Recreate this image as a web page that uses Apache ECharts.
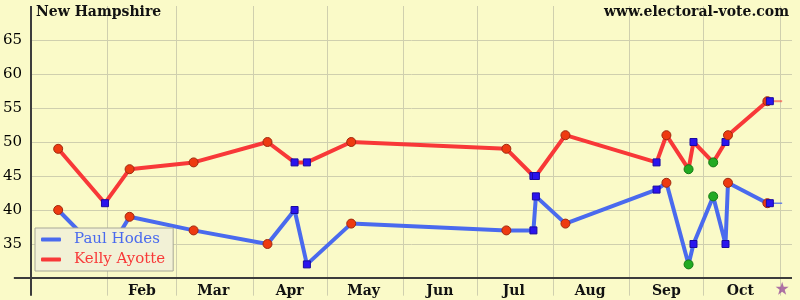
<!DOCTYPE html>
<html>
<head>
<meta charset="utf-8">
<script src="https://cdn.jsdelivr.net/npm/echarts@6/dist/echarts.min.js"></script>
<style>
html,body{margin:0;padding:0;background:#fafac8;}
#chart{width:800px;height:300px;}
</style>
</head>
<body>
<div id="chart"></div>
<script>
// ---- data ----
var pollDates = ['2010-01-12','2010-01-31','2010-02-10','2010-03-08','2010-04-07','2010-04-18','2010-04-23','2010-05-11','2010-07-13','2010-07-24','2010-07-25','2010-08-06','2010-09-12','2010-09-16','2010-09-25','2010-09-27','2010-10-05','2010-10-10','2010-10-11','2010-10-27','2010-10-28'];
var hodes     = [40, 33, 39, 37, 35, 40, 32, 38, 37, 37, 42, 38, 43, 44, 32, 35, 42, 35, 44, 41, 41];
var ayotte    = [49, 41, 46, 47, 50, 47, 47, 50, 49, 45, 45, 51, 47, 51, 46, 50, 47, 50, 51, 56, 56];
var pollster  = ['c','s','c','c','c','s','s','c','c','s','s','c','s','c','g','s','g','s','c','c','s'];
var electionDay = '2010-11-02';
var monthStarts = ['2010-02-01','2010-03-01','2010-04-01','2010-05-01','2010-06-01','2010-07-01','2010-08-01','2010-09-01','2010-10-01','2010-11-01'];
var monthLabels = ['Feb','Mar','Apr','May','Jun','Jul','Aug','Sep','Oct'];
var monthLabelDates = ['2010-02-15','2010-03-16','2010-04-16','2010-05-16','2010-06-16','2010-07-16','2010-08-16','2010-09-16','2010-10-16'];
var yTicks = [35, 40, 45, 50, 55, 60, 65];
var candidates = ['Paul Hodes', 'Kelly Ayotte'];

// ---- styling ----
var SERIF = '"DejaVu Serif", "Liberation Serif", serif';
var BLUE = '#4a6aee', RED = '#f83838';
var markerStyles = {
  c: {symbol: 'circle', symbolSize: 9, itemStyle: {color: '#ee3a10', borderColor: '#a02a10', borderWidth: 1}},
  s: {symbol: 'rect', symbolSize: 7, itemStyle: {color: '#2a14ee', borderColor: '#1a0aa0', borderWidth: 1}},
  g: {symbol: 'circle', symbolSize: 9, itemStyle: {color: '#22aa22', borderColor: '#137a13', borderWidth: 1}}
};
function t(d){ return Date.UTC(+d.slice(0,4), +d.slice(5,7) - 1, +d.slice(8,10)); }
function buildData(values){
  return pollDates.map(function(d, i){
    var m = markerStyles[pollster[i]];
    return {value: [t(d), values[i]], symbol: m.symbol, symbolSize: m.symbolSize, itemStyle: m.itemStyle};
  });
}
var labelMap = {};
monthLabelDates.forEach(function(d, i){ labelMap[t(d)] = monthLabels[i]; });

var yTop = 70, yBottom = 30, yBelow = 27.4;
var xStart = t('2010-01-01'), xEnd = t('2010-11-06');
var xLeftExt = xStart - 7 * 86400000;
var lastIdx = pollDates.length - 1;

// segments [x1, y1, x2, y2] in data units
var gridSegs = monthStarts.map(function(d){ return [t(d), yTop, t(d), yBelow]; });
var axisSegs = [[xStart, yTop, xStart, yBelow], [xLeftExt, yBottom, xEnd, yBottom]];

function segRenderer(color, width){
  return function(params, api){
    var p1 = api.coord([api.value(0), api.value(1)]);
    var p2 = api.coord([api.value(2), api.value(3)]);
    var off = (width % 2 === 1) ? 0.5 : 0;
    var vertical = Math.abs(p1[0] - p2[0]) < 0.5;
    if (vertical) { var x = Math.round(p1[0]) + off; p1[0] = x; p2[0] = x; }
    else { var y = Math.round(p1[1]) + off; p1[1] = y; p2[1] = y; }
    return {type: 'line', silent: true,
      shape: {x1: p1[0], y1: p1[1], x2: p2[0], y2: p2[1]},
      style: {stroke: color, lineWidth: width}};
  };
}

var chart = echarts.init(document.getElementById('chart'), null, {renderer: 'canvas'});
chart.setOption({
  backgroundColor: '#fafac8',
  animation: false,
  title: [
    {text: 'New Hampshire', left: 31, top: 0, textStyle: {fontFamily: SERIF, fontWeight: 'bold', fontSize: 14, color: '#111'}},
    {text: 'www.electoral-vote.com', right: 6, top: 0, textStyle: {fontFamily: SERIF, fontWeight: 'bold', fontSize: 14, color: '#111'}}
  ],
  legend: {
    orient: 'vertical', left: 35, top: 228,
    backgroundColor: '#f2f1d6', borderColor: '#a8a898', borderWidth: 1,
    padding: [4, 8, 4, 6], itemGap: 5, itemWidth: 20, itemHeight: 4,
    icon: 'roundRect',
    data: [
      {name: candidates[0], textStyle: {color: BLUE}},
      {name: candidates[1], textStyle: {color: RED}}
    ],
    textStyle: {fontFamily: SERIF, fontSize: 15, padding: [0, 0, 0, 8]}
  },
  grid: {left: 30, right: 8, top: 6, bottom: 22, containLabel: false},
  xAxis: {
    type: 'value', min: xStart, max: xEnd, scale: true,
    axisLine: {show: false}, axisTick: {show: false}, splitLine: {show: false},
    axisLabel: {
      customValues: monthLabelDates.map(t),
      formatter: function(v){ return labelMap[v] || ''; },
      fontFamily: SERIF, fontWeight: 'bold', fontSize: 14, color: '#111', margin: 6,
      hideOverlap: false
    }
  },
  yAxis: {
    type: 'value', min: yBottom, max: yTop, interval: 5,
    axisLine: {show: false}, axisTick: {show: false},
    splitLine: {show: true, showMinLine: false, showMaxLine: false, lineStyle: {color: '#cfcfae', width: 1}},
    axisLabel: {
      fontFamily: SERIF, fontSize: 15, color: '#000', margin: 9,
      showMinLabel: false, showMaxLabel: false,
      formatter: function(v){ return yTicks.indexOf(v) >= 0 ? String(v) : ''; }
    }
  },
  series: [
    {
      name: 'monthGrid', type: 'custom', clip: false, silent: true, z: 1,
      renderItem: segRenderer('#cfcfae', 1),
      encode: {x: [0, 2], y: [1, 3]},
      data: gridSegs
    },
    {
      name: 'axes', type: 'custom', clip: false, silent: true, z: 5,
      renderItem: segRenderer('#3c3c3c', 2),
      encode: {x: [0, 2], y: [1, 3]},
      data: axisSegs
    },
    {
      name: 'hodes-proj', type: 'line', silent: true, showSymbol: false, symbol: 'none', z: 2,
      lineStyle: {color: BLUE, width: 1.5, opacity: 0.8},
      data: [[t(pollDates[lastIdx]), hodes[lastIdx]], [t(electionDay), hodes[lastIdx]]]
    },
    {
      name: 'ayotte-proj', type: 'line', silent: true, showSymbol: false, symbol: 'none', z: 2,
      lineStyle: {color: RED, width: 2, opacity: 0.6},
      data: [[t(pollDates[lastIdx]), ayotte[lastIdx]], [t(electionDay), ayotte[lastIdx]]]
    },
    {
      name: candidates[0], type: 'line', color: BLUE, z: 3,
      lineStyle: {color: BLUE, width: 4},
      data: buildData(hodes)
    },
    {
      name: candidates[1], type: 'line', color: RED, z: 4,
      lineStyle: {color: RED, width: 4},
      data: buildData(ayotte)
    },
    {
      name: 'election', type: 'scatter', clip: false, silent: true, z: 6,
      symbol: 'path://M50,0 L61.8,35.1 L98.9,35.1 L69.1,56.9 L80.3,91.9 L50,70.3 L19.7,91.9 L30.9,56.9 L1.1,35.1 L38.2,35.1 Z',
      symbolSize: 13,
      itemStyle: {color: '#9a4f9a'},
      data: [[t(electionDay), 28.5]]
    }
  ]
});
</script>
</body>
</html>
